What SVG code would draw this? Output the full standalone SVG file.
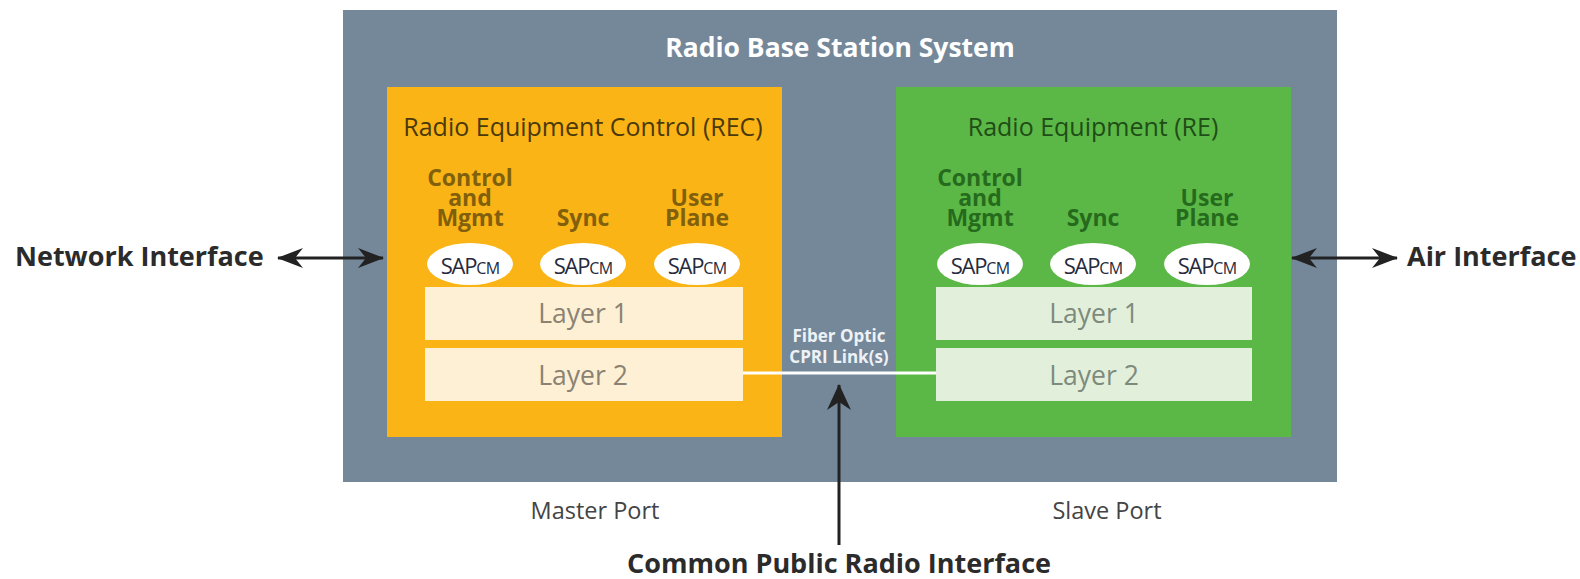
<svg xmlns="http://www.w3.org/2000/svg" width="1580" height="579" viewBox="0 0 1580 579">
<defs>
<style>
text{font-family:"Open Sans","Noto Sans","Liberation Sans",sans-serif}
.ext{font-size:27px;font-weight:700;fill:#2b2b2b}
.port{font-size:23.5px;fill:#444}
.title{font-size:26.5px;font-weight:700;fill:#ffffff}
.rec-t{font-size:25px;fill:#4a390a}
.re-t{font-size:25px;fill:#1f4d17}
.rec-h{font-size:23px;font-weight:700;fill:#80600c}
.re-h{font-size:23px;font-weight:700;fill:#266b1d}
.sap{fill:#ffffff}
.sapt{font-size:22px;fill:#262a3c;letter-spacing:-1.2px}
.sub{font-size:16px;letter-spacing:-0.8px}
.rec-l{fill:#fdf0d4}
.re-l{fill:#e2f0db}
.lt{font-size:26.5px;fill:#8b8273}
.lt2{font-size:26.5px;fill:#7d8a7c}
.fib{font-size:17px;font-weight:700;fill:#eef2f6}
.arr{stroke:#222;stroke-width:3;fill:none}
</style>
<marker id="ah" viewBox="0 0 26 20" refX="25" refY="10" markerWidth="26" markerHeight="20" markerUnits="userSpaceOnUse" orient="auto-start-reverse">
<path d="M0,0 L26,10 L0,20 L8,10 z" fill="#222"/>
</marker>
<marker id="ahv" viewBox="0 0 26 24" refX="25" refY="12" markerWidth="26" markerHeight="24" markerUnits="userSpaceOnUse" orient="auto">
<path d="M0,0 L26,12 L0,24 L8,12 z" fill="#222"/>
</marker>
</defs>
<rect width="1580" height="579" fill="#ffffff"/>

<g id="rbs">
<rect x="343" y="10" width="994" height="472" fill="#74889a"/>
<text class="title" x="840" y="57" text-anchor="middle">Radio Base Station System</text>
</g>

<g id="rec">
<rect x="387" y="87" width="395" height="350" fill="#fbb415"/>
<text class="rec-t" x="583" y="136" text-anchor="middle">Radio Equipment Control (REC)</text>
<text class="rec-h" text-anchor="middle"><tspan x="470" y="186">Control</tspan><tspan x="470" y="206">and</tspan><tspan x="470" y="226">Mgmt</tspan></text>
<text class="rec-h" x="583" y="226" text-anchor="middle">Sync</text>
<text class="rec-h" text-anchor="middle"><tspan x="697" y="206">User</tspan><tspan x="697" y="226">Plane</tspan></text>
<ellipse class="sap" cx="470" cy="264" rx="43" ry="21"/>
<ellipse class="sap" cx="583" cy="264" rx="43" ry="21"/>
<ellipse class="sap" cx="697" cy="264" rx="43" ry="21"/>
<text class="sapt" x="470" y="274" text-anchor="middle">SAP<tspan class="sub">CM</tspan></text>
<text class="sapt" x="583" y="274" text-anchor="middle">SAP<tspan class="sub">CM</tspan></text>
<text class="sapt" x="697" y="274" text-anchor="middle">SAP<tspan class="sub">CM</tspan></text>
<rect class="rec-l" x="425" y="287" width="318" height="53"/>
<text class="lt" x="583" y="323" text-anchor="middle">Layer 1</text>
<rect class="rec-l" x="425" y="348" width="318" height="53"/>
<text class="lt" x="583" y="385" text-anchor="middle">Layer 2</text>
</g>

<g id="re">
<rect x="896" y="87" width="395" height="350" fill="#5cb846"/>
<text class="re-t" x="1093" y="136" text-anchor="middle">Radio Equipment (RE)</text>
<text class="re-h" text-anchor="middle"><tspan x="980" y="186">Control</tspan><tspan x="980" y="206">and</tspan><tspan x="980" y="226">Mgmt</tspan></text>
<text class="re-h" x="1093" y="226" text-anchor="middle">Sync</text>
<text class="re-h" text-anchor="middle"><tspan x="1207" y="206">User</tspan><tspan x="1207" y="226">Plane</tspan></text>
<ellipse class="sap" cx="980" cy="264" rx="43" ry="21"/>
<ellipse class="sap" cx="1093" cy="264" rx="43" ry="21"/>
<ellipse class="sap" cx="1207" cy="264" rx="43" ry="21"/>
<text class="sapt" x="980" y="274" text-anchor="middle">SAP<tspan class="sub">CM</tspan></text>
<text class="sapt" x="1093" y="274" text-anchor="middle">SAP<tspan class="sub">CM</tspan></text>
<text class="sapt" x="1207" y="274" text-anchor="middle">SAP<tspan class="sub">CM</tspan></text>
<rect class="re-l" x="936" y="287" width="316" height="53"/>
<text class="lt2" x="1094" y="323" text-anchor="middle">Layer 1</text>
<rect class="re-l" x="936" y="348" width="316" height="53"/>
<text class="lt2" x="1094" y="385" text-anchor="middle">Layer 2</text>
</g>

<g id="labels">
<text class="ext" x="15" y="266">Network Interface</text>
<text class="ext" x="1407" y="266">Air Interface</text>
<text class="port" x="595" y="519" text-anchor="middle">Master Port</text>
<text class="port" x="1107" y="519" text-anchor="middle">Slave Port</text>
<text class="ext" x="839" y="573" text-anchor="middle">Common Public Radio Interface</text>
</g>

<g id="connectors">
<line x1="743" y1="373" x2="936" y2="373" stroke="#ffffff" stroke-width="3"/>
<text class="fib" x="839" y="342" text-anchor="middle">Fiber Optic</text>
<text class="fib" x="839" y="363" text-anchor="middle">CPRI Link(s)</text>
<line class="arr" x1="278" y1="258" x2="383" y2="258" marker-start="url(#ah)" marker-end="url(#ah)"/>
<line class="arr" x1="1292" y1="258" x2="1397" y2="258" marker-start="url(#ah)" marker-end="url(#ah)"/>
<line class="arr" x1="839" y1="545" x2="839" y2="385" marker-end="url(#ahv)"/>
</g>
</svg>
